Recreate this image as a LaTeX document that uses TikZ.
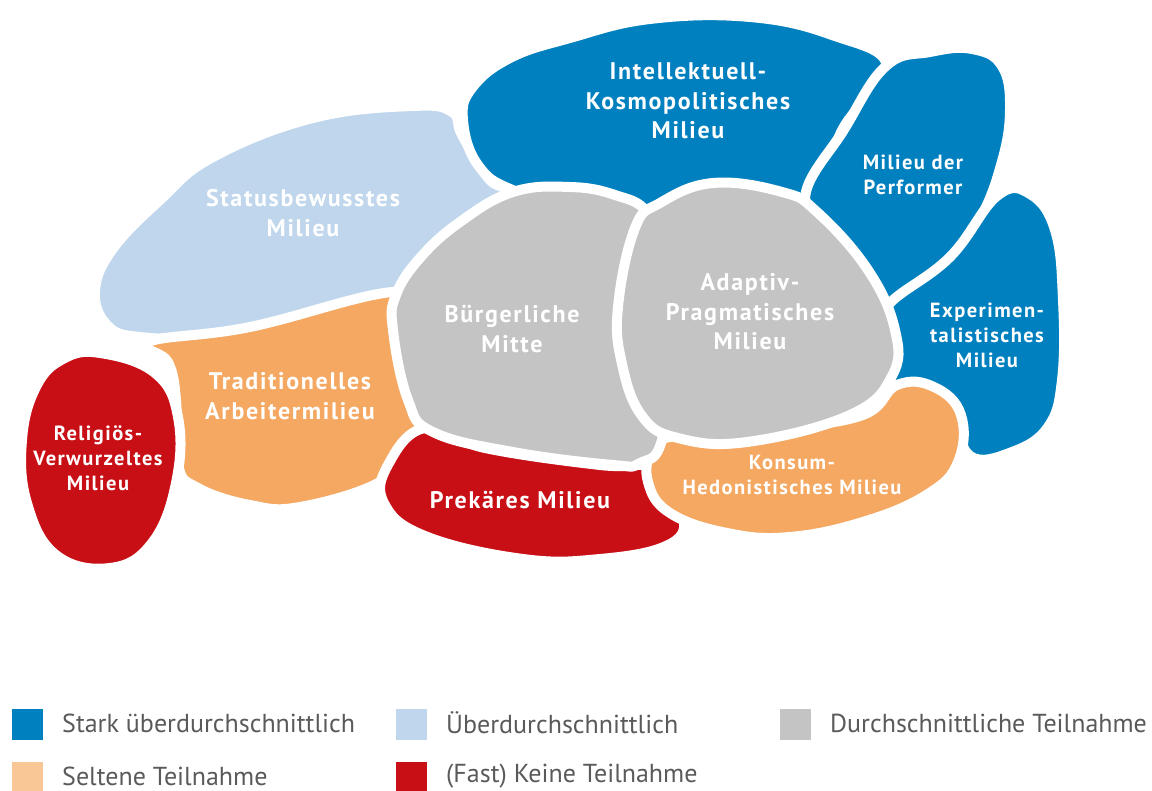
\documentclass[tikz,border=0pt]{standalone}
\usepackage{fontspec}
\setmainfont{PT Sans}
\newfontfamily\blobfont[LetterSpace=7]{PT Sans}
\usepackage{tikz}
\usetikzlibrary{positioning}
\usepackage{xcolor}
\definecolor{milieuBlue}{HTML}{0080BE}
\definecolor{milieuLight}{HTML}{BFD6EC}
\definecolor{milieuGray}{HTML}{C4C4C4}
\definecolor{milieuOrange}{HTML}{F5A862}
\definecolor{milieuPeach}{HTML}{F9C696}
\definecolor{milieuRed}{HTML}{C80F15}
\definecolor{milieuText}{HTML}{5A5A5A}

\begin{document}
\begin{tikzpicture}[x=1pt, y=-1pt,
    blob/.style={draw=white, line width=10pt, line join=round},
    lbl/.style={inner sep=0pt, text=white, align=center, font=\blobfont\bfseries\fontsize{24}{29.5}\selectfont},
    lblsmall/.style={lbl, font=\blobfont\bfseries\fontsize{20.5}{25}\selectfont},
    legendtext/.style={inner sep=0pt, anchor=west, text=milieuText, font=\fontsize{26}{30}\selectfont}]
  \useasboundingbox (0,0) rectangle (1152,791);

  % Statusbewusstes Milieu
  \filldraw[blob, fill=milieuLight] plot[smooth cycle, tension=0.7] coordinates {
    (95,292) (112,250) (160,200) (213,157) (313,118) (413,106) (452,112) (462,135)
    (490,180) (520,200) (450,260) (395,297) (300,318) (200,336) (140,337) (108,326)};
  % Traditionelles Arbeitermilieu
  \filldraw[blob, fill=milieuOrange] plot[smooth cycle, tension=0.7] coordinates {
    (148,342) (250,327) (392,292) (432,310) (436,400) (425,432) (400,450) (380,482)
    (300,507) (250,505) (198,488) (178,465) (176,400) (168,362)};
  % Religioes-Verwurzeltes Milieu
  \filldraw[blob, fill=milieuRed] plot[smooth cycle, tension=0.7] coordinates {
    (100,353) (155,373) (178,417) (176,483) (152,543) (110,568) (56,555) (27,503)
    (22,440) (36,387) (63,359)};
  % Intellektuell-Kosmopolitisches Milieu
  \filldraw[blob, fill=milieuBlue] plot[smooth cycle, tension=0.7] coordinates {
    (463,120) (472,88) (510,58) (570,38) (650,19) (750,17) (832,35) (887,66) (845,125)
    (806,196) (700,220) (600,215) (515,191) (478,165)};
  % Milieu der Performer
  \filldraw[blob, fill=milieuBlue] plot[smooth cycle, tension=0.7] coordinates {
    (886,66) (930,52) (972,49) (1002,66) (1010,110) (1001,165) (978,222) (940,270)
    (885,302) (845,245) (805,200) (845,128)};
  % Experimentalistisches Milieu
  \filldraw[blob, fill=milieuBlue] plot[smooth cycle, tension=0.7] coordinates {
    (890,303) (950,257) (997,196) (1030,194) (1055,230) (1063,300) (1062,380)
    (1048,427) (1012,452) (970,456) (952,410) (925,388) (885,380) (880,330)};
  % Prekaeres Milieu
  \filldraw[blob, fill=milieuRed] plot[smooth cycle, tension=0.7] coordinates {
    (425,428) (485,448) (600,465) (650,467) (660,493) (684,521) (666,546)
    (600,559) (523,559) (425,536) (384,503) (388,465)};
  % Konsum-Hedonistisches Milieu
  \filldraw[blob, fill=milieuOrange] plot[smooth cycle, tension=0.7] coordinates {
    (652,450) (675,436) (760,430) (860,416) (897,385) (934,387) (961,415)
    (958,462) (928,494) (866,521) (790,537) (727,533) (670,513) (648,482)};
  % Buergerliche Mitte
  \filldraw[blob, fill=milieuGray] plot[smooth cycle, tension=0.7] coordinates {
    (420,258) (460,222) (513,192) (570,187) (615,195) (648,213) (668,260) (672,350)
    (662,440) (640,463) (613,465) (513,452) (433,432) (408,400) (393,330) (396,295)};
  % Adaptiv-Pragmatisches Milieu
  \filldraw[blob, fill=milieuGray] plot[smooth cycle, tension=0.7] coordinates {
    (660,203) (713,183) (782,192) (817,212) (868,270) (895,330) (892,376) (850,415)
    (747,442) (678,438) (642,416) (622,364) (618,307) (635,228)};

  % Beschriftungen
  \node[lbl] (intellekt) at (688,101) {Intellektuell-\\Kosmopolitisches\\Milieu};
  \node[lbl] (status) at (303,213) {Statusbewusstes\\Milieu};
  \node[lbl] (mitte) at (512,329) {Bürgerliche\\Mitte};
  \node[lbl] (adaptiv) at (750,312) {Adaptiv-\\Pragmatisches\\Milieu};
  \node[lblsmall] (performer) at (913,175) {Milieu der\\Performer};
  \node[lblsmall] (experiment) at (987,335) {Experimen-\\talistisches\\Milieu};
  \node[lbl] (traditionell) at (290,396) {Traditionelles\\Arbeitermilieu};
  \node[lblsmall] (religioes) at (98,458) {Religiös-\\Verwurzeltes\\Milieu};
  \node[lbl] (prekaer) at (520,500) {Prekäres Milieu};
  \node[lblsmall] (konsum) at (792,475) {Konsum-\\Hedonistisches Milieu};

  % Legende
  \foreach \i/\col/\txt/\x/\y in {%
    1/milieuBlue/{Stark überdurchschnittlich}/12/709,
    2/milieuLight/{Überdurchschnittlich}/396/709,
    3/milieuGray/{Durchschnittliche Teilnahme}/780/709,
    4/milieuPeach/{Seltene Teilnahme}/12/762,
    5/milieuRed/{(Fast) Keine Teilnahme}/396/762%
  } {
    \fill[\col] (\x,\y) rectangle ++(31,31);
    \node[legendtext] (legende\i) at (\x+50,\y+14) {\txt};
  }
\end{tikzpicture}
\end{document}
